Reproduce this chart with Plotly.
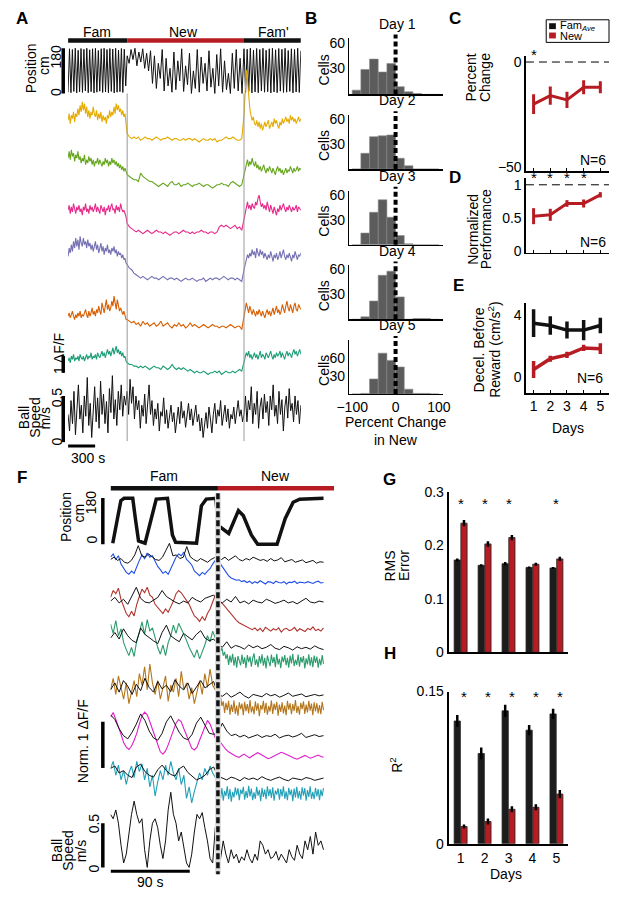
import numpy as np
import plotly.graph_objects as go

W, H = 617, 897
FONT = "Liberation Sans, Arial, sans-serif"
NEW_RED = "#B71C22"
INK = "#111111"

# ======================= DATA =======================
# ---- Panel A : one session, time in s, epochs Fam | New | Fam'
A_EPOCHS = [0, 655, 1950, 2580]
A_POS_FAM = [5,178,3,175,8,180,2,172,6,179,4,176,10,180,3,174,7,178,2,180,5,171,9,178,4,180,6,175,3,179,8,177,2,180,5,173,7,179,4,176,30]
A_POS_NEW = [150,120,175,135,180,110,165,125,178,100,160,90,170,40,150,20,120,60,175,10,140,30,100,5,165,15,130,50,178,8,110,35,160,0,90,20,175,5,145,40,120,10,170,25,100,0,155,30,178,5,130,15,80,0,160,20,175,10,140,0]
A_POS_FAMP = [178,4,176,8,180,2,173,6,179,3,175,10,180,5,172,7,178,2,180,6,174,3,179,9,176,4,180,5,171,8,178,2,175,6,180,4,170]
# dF/F traces in units of 0.1 dF/F (Fam, New, Fam')
A_YELLOW = [[11,15,9,14,12,16,10,15,13,18,14,20,16,22,17,21,15,19,13,17,12,16,14,19,15,13,17,11,15,12,16,10,14,11,13,9,14,12,17,13,16,14,19,15,21,17,20,16,18,14,17,13,15,10],
            [3,1,0,1,0,1,-1,0,1,0,0,-1,0,1,0,-1,0,0,1,0,-1,0,0,-1,-1,0,-1,0,0,-1,0,-1,-2,-1,0,-1,-1,0,-1,0,-2,-1,-1,0,1,0,0,1,0,-1,-1,0],
            [14,28,41,35,24,18,14,11,13,9,8,11,7,10,6,9,5,8,10,7,9,11,6,8,10,7,12,9,11,8,6,10,8,12,9,11,13,10,12,9,14,11,13,10,12,9,11,13,10,12]]
A_GREEN = [[16,20,15,21,17,19,14,18,16,20,15,17,13,16,14,18,12,15,13,17,14,16,12,15,11,14,13,16,12,15,13,11,14,12,16,13,15,11,14,12,16,13,15,12,14,11,13,10,12,9,11,8,10,7],
           [6,5,4,3,3,2,7,5,4,3,2,2,1,0,-1,0,1,0,-1,1,2,0,0,1,-1,0,0,1,0,-1,0,0,1,0,-1,0,0,-1,-2,-1,0,0,1,0,0,-1,1,2,1,0,-1,0],
           [6,10,12,15,11,14,12,16,13,11,14,10,12,9,11,8,10,12,9,7,10,8,11,9,7,10,8,6,9,11,8,10,7,9,6,8,10,7,9,8,11,9,7,10,8,9,11,8,10,9]]
A_PINK = [[13,16,11,15,12,17,14,11,15,13,16,12,14,10,15,13,17,12,14,11,16,13,15,12,14,17,12,15,13,11,16,14,12,15,10,14,13,16,12,15,17,13,14,11,16,13,15,12,17,14,12,13,11,9],
          [5,3,2,1,0,1,0,-1,0,1,0,-1,0,1,0,0,-1,0,-1,-2,-1,0,0,-1,0,1,0,0,-1,0,-1,0,0,1,0,0,-1,0,0,-1,0,3,4,3,4,3,2,3,4,2,3,1],
          [8,12,15,18,14,16,13,17,15,14,18,16,20,22,18,15,17,14,16,13,18,15,12,16,14,11,15,13,10,14,12,16,13,15,17,14,12,15,13,16,14,12,15,13,14,16,12,15,14,13]]
A_PURPLE = [[13,18,15,20,16,22,18,24,19,23,17,25,21,19,24,20,22,18,23,19,21,17,20,16,19,22,17,20,15,18,21,16,19,14,18,16,20,15,17,14,18,16,19,15,17,13,16,14,15,12,14,11,12,9],
            [8,6,5,3,2,1,0,1,0,-1,0,1,0,0,-1,0,1,0,-1,0,0,-1,0,-1,-2,-1,0,-1,-1,0,-1,-2,-1,-1,0,-2,-1,0,-1,0,0,-1,0,1,0,-1,0,0,-1,0,-1,-2],
            [5,8,11,14,12,15,13,17,14,16,12,18,15,13,17,14,16,12,15,13,11,14,12,16,13,10,14,12,15,11,13,16,12,14,17,13,11,14,12,15,13,10,14,12,16,13,11,14,13,15]]
A_ORANGE = [[6,8,5,7,9,6,4,7,5,8,6,9,5,7,6,8,10,7,5,9,6,8,11,7,9,6,10,8,12,9,7,14,10,8,12,16,10,13,9,11,15,12,18,14,10,16,12,9,11,8,7,9,6,4],
            [4,3,2,3,1,2,0,3,1,2,0,1,2,0,1,3,0,1,2,0,-1,1,0,2,0,1,-1,0,2,0,1,0,-1,0,1,0,-1,0,1,0,0,-1,0,0,-1,0,1,0,-1,0,0,-2],
            [5,9,14,11,8,12,9,7,10,8,6,9,7,10,8,6,9,7,5,8,10,7,9,6,8,11,7,9,12,8,10,7,9,13,10,8,12,15,11,9,13,10,8,12,14,10,9,13,11,10]]
A_TEAL = [[5,7,4,8,6,9,5,7,6,8,5,9,7,6,8,5,7,9,6,8,7,10,6,8,7,9,6,10,8,7,9,11,8,10,7,9,12,9,11,8,10,13,9,11,14,10,12,9,11,8,10,7,8,5],
          [4,3,3,2,2,1,2,1,2,1,0,1,2,1,1,0,2,1,0,1,3,1,0,1,0,1,0,-1,0,-1,-2,-1,-2,-2,-1,-2,-3,-2,-2,-1,-2,-1,-3,-2,-1,-2,-2,-1,-2,-1,0,-1],
          [4,7,10,8,11,7,9,6,8,10,7,9,6,8,11,7,9,8,6,10,8,7,9,11,8,6,9,7,10,8,9,11,7,10,8,6,9,11,8,10,9,7,10,12,9,11,8,10,12,9]]
A_SPEED = [[0.3,0.12,0.45,0.2,0.55,0.08,0.35,0.62,0.25,0.4,0.1,0.5,0.28,0.7,0.18,0.42,0.05,0.38,0.6,0.22,0.48,0.15,0.66,0.3,0.52,0.2,0.44,0.1,0.58,0.32,0.72,0.25,0.46,0.18,0.55,0.35,0.62,0.28,0.5,0.4],
           [0.55,0.3,0.68,0.42,0.6,0.25,0.5,0.35,0.45,0.15,0.4,0.28,0.52,0.2,0.38,0.62,0.3,0.45,0.18,0.36,0.25,0.42,0.12,0.33,0.28,0.48,0.2,0.35,0.15,0.3,0.4,0.22,0.32,0.1,0.28,0.38,0.2,0.44,0.26,0.34,0.16,0.3,0.42,0.24,0.36,0.18,0.28,0.4,0.22,0.3,0.12,0.26,0.05,0.2,0.32,0.15,0.38,0.25,0.1,0.3,0.42,0.2,0.35,0.28,0.45,0.18,0.3,0.4,0.22,0.36,0.15,0.3,0.25,0.38,0.2,0.32,0.45,0.28,0.35,0.22],
           [0.3,0.5,0.22,0.45,0.35,0.6,0.2,0.42,0.3,0.55,0.15,0.38,0.48,0.25,0.52,0.32,0.44,0.18,0.5,0.35,0.62,0.28,0.4,0.2,0.55,0.3,0.46,0.12,0.38,0.5,0.26,0.58,0.34,0.42,0.22,0.5,0.3,0.45,0.2,0.4]]

# ---- Panel B : histograms of percent change in New (bin centres)
B_BINS = [-90, -70, -50, -30, -10, 10, 30, 50, 70, 90]
B_DAY1 = [5, 29, 41, 26, 36, 9, 3, 1, 0, 0]
B_DAY2 = [0, 19, 39, 40, 41, 13, 4, 0, 0, 0]
B_DAY3 = [0, 14, 39, 54, 33, 11, 1, 0, 0, 0]
B_DAY4 = [0, 3, 22, 53, 58, 27, 0, 1, 1, 0]
B_DAY5 = [0, 1, 25, 68, 56, 45, 8, 1, 1, 0]

# ---- Panels C, D, E
DAYS = [1, 2, 3, 4, 5]
C_NEW = [-20, -16, -18, -12, -12]
C_NEW_ERR = [4.7, 4.3, 3.9, 3.3, 2.9]
D_NEW = [0.53, 0.55, 0.72, 0.72, 0.85]
D_NEW_ERR = [0.12, 0.09, 0.05, 0.06, 0.04]
E_FAM = [3.5, 3.35, 3.05, 3.05, 3.35]
E_FAM_ERR = [0.9, 0.6, 0.55, 0.65, 0.5]
E_NEW = [0.5, 1.2, 1.45, 1.9, 1.85]
E_NEW_ERR = [0.55, 0.2, 0.2, 0.2, 0.35]

# ---- Panel F : example around the switch, time in s
F_EPOCHS = [0, 122, 242]
F_POS_T = [2.5,11.7,15.4,25.2,28.2,31.8,39.2,46.4,51.9,64.7,70.3,73.9,97.7,103.2,108.7,119.7,122.2,134.3,145.3,150.8,160,167.2,189.2,198.4,207.5,214.9,229.6,242]
F_POS_CM = [4,170,179,179,100,13,4,100,176,179,36,8,4,150,176,179,74,42,131,112,36,0,0,100,164,176,179,179]
# each cell: measured trace (Fam, New) and model fit (Fam, New), in % of norm dF/F
F_BLUE = dict(fam=[55,62,50,58,40,30,22,18,25,20,35,48,60,52,64,55,58,45,35,28,20,24,18,30,42,55,62,58,66,50,45,38,25,20,15,22,18,25,30,40,48],
              new=[48,40,30,22,15,10,8,5,6,2,4,0,3,-2,2,-1,4,0,-3,2,1,-2,3,0,-1,2,-3,1,0,3,-2,1,0,-1,2,0,-2,1,3,-1,0],
              fit_fam=[50,55,48,52,44,42,48,60,80,58,55,62,56,50,48,55,70,85,58,60,52,55,78,56,50,46,52,48,44,50,54],
              fit_new=[52,50,55,48,53,58,50,47,52,49,55,51,48,50,46,52,47,49,54,45,48,50,44,47,49,43,46,48,42,45,44])
F_RED = dict(fam=[70,85,78,90,65,50,35,28,40,30,55,72,88,80,92,75,70,55,48,40,35,45,38,50,62,78,85,80,72,65,55,42,30,25,18,28,20,35,45,60,75],
             new=[72,60,55,48,40,35,28,20,15,12,8,5,2,0,4,-2,3,-4,5,0,-3,2,-1,4,-5,1,3,-2,0,5,-3,2,-1,-4,3,0,6,-2,1,-3,4],
             fit_fam=[62,70,58,66,55,75,92,68,60,58,64,70,85,72,66,60,56,62,58,70,64,60,68,72,75],
             fit_new=[64,58,66,60,72,58,62,56,64,60,58,66,62,57,60,64,58,61,56,62,68,60,58,62,60])
F_GREEN = dict(fam=[80,60,88,55,70,40,25,12,30,10,45,62,85,58,90,65,72,48,30,15,35,12,40,55,78,60,82,70,58,45,30,18,8,25,5,20,35,55,42,65,50],
               new=[40,30,22,28,12,20,5,15,-8,12,-3,16,-10,9,-14,11,2,-9,14,-6,8,-15,13,-2,10,-12,6,17,-8,4,-13,11,-5,15,-10,7,-16,12,0,-11,14,-4,9,-13,16,-7,5,-15,10,-2,13,-9,7,-14,12,-5,16,-11,3,-8,14,-12,9,-3,11,-16,6,-7,15,-10,8,-13,12,-4,10,-14,5,-9,13,-6],
               fit_fam=[50,62,48,70,55,45,40,72,58,50,44,38,62,78,55,48,42,60,52,46,58,66,50,44,48],
               fit_new=[36,30,42,28,34,31,26,35,29,33,27,30,36,28,25,32,29,24,31,27,30,26,33,28,25])
F_BROWN = dict(fam=[40,65,30,70,45,20,55,10,35,60,25,75,50,90,40,96,55,30,60,20,45,70,15,50,35,65,25,80,40,55,20,45,10,35,60,30,75,45,85,50,40],
               new=[30,18,25,5,15,-10,12,-4,16,-14,8,-8,17,-12,6,-16,13,-2,10,-15,14,-6,9,-11,18,-9,4,-13,15,-5,11,-17,7,-3,16,-10,12,-14,5,-7,17,-12,10,-4,14,-16,8,-8,13,-11,6,-15,16,-3,11,-13,9,-6,18,-10,5,-14,12,-2,15,-12,8,-9,16,-5,10,-15,13,-7,11,-11,7,-13,14,-4],
               fit_fam=[40,55,35,60,48,30,52,38,65,45,35,58,42,50,36,62,48,40,55,32,46,60,44,52,58],
               fit_new=[30,26,33,24,29,35,27,22,30,28,25,32,27,30,24,28,33,26,29,31,25,28,30,27,29])
F_MAGENTA = dict(fam=[85,95,80,65,48,30,20,15,22,35,50,70,88,96,90,75,58,40,22,10,5,12,25,42,60,72,80,75,60,45,30,18,14,20,35,50,65,78,70,55,40],
                 new=[38,30,22,15,10,6,3,0,-2,2,5,0,-3,1,4,8,5,2,-2,-5,-3,0,3,6,9,7,4,1,-2,-4,-6,-3,0,2,-1,-4,-2,1,3,0,-2],
                 fit_fam=[90,80,60,45,38,52,70,92,78,55,40,35,50,75,88,70,52,40,36,48,72,85,66,50,48],
                 fit_new=[50,72,55,45,48,42,46,40,44,47,41,45,43,48,40,44,46,42,45,50,41,44,47,43,45])
F_CYAN = dict(fam=[55,70,40,62,30,50,20,45,60,35,70,48,65,30,55,15,40,-5,25,50,30,62,40,70,45,30,55,20,40,-10,15,-20,5,25,45,30,55,40,60,45,35],
              new=[20,8,-10,12,-15,6,-5,16,-12,10,-17,4,-8,14,-3,12,-14,9,-1,15,-13,6,-9,17,-6,11,-14,3,-11,15,-4,8,-16,13,-7,9,-12,16,-5,10,-9,14,-15,7,-2,12,-13,10,-6,16,-11,5,-14,13,-3,9,-16,11,-8,15,-10,6,-13,14,-4,12,-15,8,-7,16,-11,4,-12,13,-6,10,-14,9,-5,12],
              fit_fam=[55,60,45,50,40,35,58,64,48,40,36,52,62,50,42,38,54,60,46,38,30,34,40,52,58],
              fit_new=[38,34,30,36,33,28,35,31,34,30,37,32,29,33,36,31,28,34,32,30,35,33,29,31,34])
F_SPEED = [[0.6,0.55,0.65,0.5,0.25,0.05,0.15,0.4,0.6,0.75,0.6,0.5,0.55,0.2,0.0,0.3,0.5,0.55,0.45,0.25,0.1,0.3,0.65,0.85,0.6,0.5,0.3,0.4,0.2,0.05,0.0,0.15,0.4,0.6,0.55,0.62,0.45,0.3,0.1,0.05,0.45],
           [0.2,0.1,0.3,0.15,0.05,0.2,0.1,0.15,0.05,0.12,0.08,0.2,0.1,0.05,0.15,0.08,0.3,0.25,0.15,0.2,0.1,0.12,0.18,0.08,0.15,0.1,0.05,0.2,0.12,0.08,0.25,0.15,0.1,0.3,0.2,0.35,0.15,0.4,0.25,0.3,0.2]]

# ---- Panels G, H : model fits per day
G_FAM = [0.173, 0.163, 0.166, 0.159, 0.158]
G_FAM_ERR = [0.003, 0.002, 0.003, 0.002, 0.002]
G_NEW = [0.242, 0.203, 0.215, 0.165, 0.175]
G_NEW_ERR = [0.006, 0.005, 0.005, 0.003, 0.004]
H_FAM = [0.121, 0.089, 0.131, 0.112, 0.128]
H_FAM_ERR = [0.006, 0.006, 0.006, 0.005, 0.005]
H_NEW = [0.017, 0.022, 0.034, 0.036, 0.049]
H_NEW_ERR = [0.002, 0.003, 0.003, 0.003, 0.004]

# ======================= HELPERS =======================
LAYOUT = {}
ANN = []
SHP = []
TRACES = []
_n = [0]


def new_axes(xpx, ypx, xr, yr, xkw=None, ykw=None):
    _n[0] += 1
    n = _n[0]
    s = '' if n == 1 else str(n)
    base = dict(showgrid=False, zeroline=False, showline=False, showticklabels=False,
                ticks='', fixedrange=True, tickfont=dict(size=14, family=FONT, color='black'))
    xa = dict(base, domain=[max(0, xpx[0] / W), min(1, xpx[1] / W)], range=list(xr), anchor='y' + s)
    ya = dict(base, domain=[max(0, 1 - ypx[1] / H), min(1, 1 - ypx[0] / H)], range=list(yr), anchor='x' + s)
    if xkw:
        xa.update(xkw)
    if ykw:
        ya.update(ykw)
    LAYOUT['xaxis' + s] = xa
    LAYOUT['yaxis' + s] = ya
    return 'x' + s, 'y' + s


def vband(zero_px, ppu, lo, hi):
    return (zero_px - hi * ppu, zero_px - lo * ppu)


def text(x, y, s, size=14, angle=0, xanchor='center', yanchor='middle', bold=False,
         xref='paper', yref='paper'):
    if xref == 'paper':
        x = x / W
    if yref == 'paper':
        y = 1 - y / H
    ANN.append(dict(x=x, y=y, xref=xref, yref=yref, text=('<b>%s</b>' % s) if bold else s,
                    showarrow=False, textangle=angle, xanchor=xanchor, yanchor=yanchor,
                    font=dict(size=size, family=FONT, color='black')))


def line(x0, y0, x1, y1, xref='paper', yref='paper', color='black', width=1, dash='solid'):
    if xref == 'paper':
        x0, x1 = x0 / W, x1 / W
    if yref == 'paper':
        y0, y1 = 1 - y0 / H, 1 - y1 / H
    SHP.append(dict(type='line', x0=x0, x1=x1, y0=y0, y1=y1, xref=xref, yref=yref,
                    line=dict(color=color, width=width, dash=dash)))


def seg_series(parts, bounds):
    ts, vs = [], []
    for i, p in enumerate(parts):
        a, b = bounds[i], bounds[i + 1]
        n = len(p)
        if i == len(parts) - 1:
            ts.append(np.linspace(a, b, n))
        else:
            ts.append(a + (b - a) * np.arange(n) / n)
        vs.append(np.asarray(p, float))
    return np.concatenate(ts), np.concatenate(vs)


def scat(ax, x, y, color, width=1.0, **kw):
    TRACES.append(go.Scatter(x=x, y=y, mode='lines', line=dict(color=color, width=width),
                             xaxis=ax[0], yaxis=ax[1], hoverinfo='skip', **kw))


# ======================= PANEL A =======================
AX0, AX1 = 57, 298
A_XR = [A_EPOCHS[0], A_EPOCHS[-1]]
text(9, 11, 'A', size=17, bold=True)

ax = new_axes((AX0, AX1), vband(87, 46 / 180, -8, 188), A_XR, [-8, 188])
t, v = seg_series([A_POS_FAM, A_POS_NEW, A_POS_FAMP], A_EPOCHS)
scat(ax, t, v, INK, 1.0)
line(52, 0, 52, 180, yref=ax[1], width=3.5)
text(19, 61, 'Position', angle=-90)
text(32, 58, 'cm', angle=-90)
text(45, 49, '180', angle=-90)
text(45, 85, '0', angle=-90)

for (a, b), col in zip(zip(A_EPOCHS[:-1], A_EPOCHS[1:]), [INK, NEW_RED, INK]):
    line(a, 33, b, 33, xref=ax[0], color=col, width=4.5)
text(87, 24, 'Fam')
text(177, 24, 'New')
text(270, 24, "Fam'")

A_COLORS = ['#E6AB02', '#66A61E', '#E7298A', '#7570B3', '#D95F02', '#1B9E77']
A_ZERO_PX = [133, 180, 228, 275, 324, 368]
teal_ax = None
for series, col, z in zip([A_YELLOW, A_GREEN, A_PINK, A_PURPLE, A_ORANGE, A_TEAL], A_COLORS, A_ZERO_PX):
    ax = new_axes((AX0, AX1), vband(z, 1.7, -12, 45), A_XR, [-12, 45])
    t, v = seg_series(series, A_EPOCHS)
    scat(ax, t, v, col, 1.1)
    teal_ax = ax
line(52, -2, 52, 8, yref=teal_ax[1], width=3.5)
text(47, 352, '1 ΔF/F', angle=-90)

ax = new_axes((AX0, AX1), vband(442, 94, -0.03, 0.9), A_XR, [-0.03, 0.9])
t, v = seg_series(A_SPEED, A_EPOCHS)
scat(ax, t, v, INK, 1.0)
line(52, 0, 52, 0.5, yref=ax[1], width=3.5)
text(46, 396, '0.5', angle=-90)
text(46, 441, '0', angle=-90)
text(11, 417, 'Ball', angle=-90)
text(22, 417, 'Speed', angle=-90)
text(33, 417, 'm/s', angle=-90)
line(0, 446, 300, 446, xref=ax[0], width=3)
text(78, 458, '300 s')
for tb in A_EPOCHS[1:3]:
    line(tb, 87, tb, 441, xref=ax[0], color='#9a9a9a', width=1)

# ======================= PANEL B =======================
text(308, 11, 'B', size=17, bold=True)
B_BASE = [88, 164, 241, 317, 393]
B_TOP = [31, 109, 186, 262, 338]
B_YMAX = [65, 65, 65, 65, 90]
for i, counts in enumerate([B_DAY1, B_DAY2, B_DAY3, B_DAY4, B_DAY5]):
    last = (i == 4)
    xkw = dict(showline=True, linecolor='black', linewidth=1.5)
    if last:
        xkw.update(showticklabels=True, tickvals=[-100, 0, 100], ticks='')
    ykw = dict(showline=True, linecolor='black', linewidth=1.2, showticklabels=True,
               tickvals=[30, 60], ticks='')
    ax = new_axes((348, 445), (B_TOP[i], B_BASE[i]), [-107, 109], [0, B_YMAX[i]], xkw, ykw)
    TRACES.append(go.Bar(x=B_BINS, y=counts, width=20, marker=dict(color='#5c5c5c', line=dict(color='#8a8a8a', width=0.6)),
                         xaxis=ax[0], yaxis=ax[1], hoverinfo='skip'))
    line(0, B_BASE[i], 0, B_TOP[i] - 4, xref=ax[0], width=4, dash='5px,3px')
    text(398, B_TOP[i] - 15, 'Day %d' % (i + 1))
    text(322, (B_TOP[i] + B_BASE[i]) / 2 + 4, 'Cells', angle=-90)
text(396, 422, 'Percent Change')
text(396, 440, 'in New')

# ======================= PANELS C, D, E =======================
CE_X = (531, 617)
CE_XR = [0.54, 5.52]
xk = dict(showline=True, linecolor='black', linewidth=1.5, tickvals=DAYS, ticks='inside', ticklen=3, tickcolor='black')
text(458, 11, 'C', size=17, bold=True)
ax = new_axes(CE_X, vband(55, 2.14, -51.9, 2.8), CE_XR, [-51.9, 2.8], dict(xk),
              dict(showline=True, linecolor='black', linewidth=1.5, showticklabels=True, tickvals=[-50, 0], ticks=''))
line(CE_XR[0], 0, CE_XR[1], 0, xref=ax[0], yref=ax[1], width=1, dash='8px,5px')
scat(ax, DAYS, C_NEW, NEW_RED, 3,
     error_y=dict(type='data', array=C_NEW_ERR, thickness=3, width=0, color=NEW_RED))
text(1, 47, '*', xref=ax[0], size=15)
text(600, 155, 'N=6')
text(474, 71, 'Percent', angle=-90)
text(488, 71, 'Change', angle=-90)

text(458, 173, 'D', size=17, bold=True)
ax = new_axes(CE_X, vband(248, 68, -0.02, 1.1), CE_XR, [-0.02, 1.1], dict(xk),
              dict(showline=True, linecolor='black', linewidth=1.5, showticklabels=True, tickvals=[0, 0.5, 1], ticks=''))
line(CE_XR[0], 1, CE_XR[1], 1, xref=ax[0], yref=ax[1], width=1, dash='8px,5px')
scat(ax, DAYS, D_NEW, NEW_RED, 3,
     error_y=dict(type='data', array=D_NEW_ERR, thickness=3, width=0, color=NEW_RED))
for d in DAYS[:4]:
    text(d, 173, '*', xref=ax[0], size=15)
text(600, 238, 'N=6')
text(476, 225, 'Normalized', angle=-90)
text(490, 225, 'Performance', angle=-90)

text(461, 283, 'E', size=17, bold=True)
xkE = dict(xk, showticklabels=True)
ax = new_axes(CE_X, vband(376, 15.75, -1.02, 4.83), CE_XR, [-1.02, 4.83], xkE,
              dict(showline=True, linecolor='black', linewidth=1.5, showticklabels=True, tickvals=[0, 4], ticks=''))
scat(ax, DAYS, E_FAM, INK, 3.5,
     error_y=dict(type='data', array=E_FAM_ERR, thickness=3.5, width=0, color=INK))
scat(ax, DAYS, E_NEW, NEW_RED, 3.5,
     error_y=dict(type='data', array=E_NEW_ERR, thickness=3.5, width=0, color=NEW_RED))
text(597, 377, 'N=6')
text(482, 348, 'Decel. Before', angle=-90)
text(498, 348, 'Reward (cm/s<sup>2</sup>)', angle=-90)
text(575, 428, 'Days')

# legend box (C)
SHP.append(dict(type='rect', x0=552 / W, x1=1.0, y0=1 - 35 / H, y1=1 - 12 / H, xref='paper', yref='paper',
                line=dict(color='black', width=1), fillcolor='white'))
SHP.append(dict(type='rect', x0=555 / W, x1=562 / W, y0=1 - 21.5 / H, y1=1 - 15.5 / H, xref='paper', yref='paper',
                line=dict(width=0), fillcolor=INK))
SHP.append(dict(type='rect', x0=555 / W, x1=562 / W, y0=1 - 31 / H, y1=1 - 25 / H, xref='paper', yref='paper',
                line=dict(width=0), fillcolor=NEW_RED))
text(564, 18.5, 'Fam<sub><i>Ave</i></sub>', size=11, xanchor='left')
text(564, 28.5, 'New', size=11, xanchor='left')

# ======================= PANEL F =======================
FX0 = 101
F_PPS = 0.911
F_XR = [0, 254]
FX = (FX0, FX0 + F_XR[1] * F_PPS)
text(9, 478, 'F', size=17, bold=True)
ax = new_axes(FX, vband(546, 47 / 180, -8, 188), F_XR, [-8, 188])
scat(ax, F_POS_T, F_POS_CM, INK, 3.5)
line(93, 0, 93, 180, yref=ax[1], width=3.5)
text(55, 518, 'Position', angle=-90)
text(68, 514, 'cm', angle=-90)
text(81, 503, '180', angle=-90)
text(82, 541, '0', angle=-90)
line(F_EPOCHS[0], 489, F_EPOCHS[1], 489, xref=ax[0], color=INK, width=4.5)
line(F_EPOCHS[1], 489, F_XR[1], 489, xref=ax[0], color=NEW_RED, width=4.5)
text(156, 476, 'Fam')
text(272, 476, 'New')

F_COLORS = ['#2250E6', '#B0342C', '#2A9B6C', '#B4761C', '#E01CC8', '#22A0B8']
F_ZERO_PX = [585, 633, 665, 713, 762, 800]
mag_ax = None
for cell, col, z in zip([F_BLUE, F_RED, F_GREEN, F_BROWN, F_MAGENTA, F_CYAN], F_COLORS, F_ZERO_PX):
    ax = new_axes(FX, vband(z, 0.47, -60, 140), F_XR, [-60, 140])
    t, v = seg_series([cell['fam'], cell['new']], F_EPOCHS)
    scat(ax, t, v, col, 1.1)
    t, v = seg_series([cell['fit_fam'], cell['fit_new']], F_EPOCHS)
    scat(ax, t, v, INK, 1.0)
    if col == '#E01CC8':
        mag_ax = ax
line(93, -25, 93, 75, yref=mag_ax[1], width=3.5)
text(72, 747, 'Norm. 1 ΔF/F', angle=-90)

ax = new_axes(FX, vband(875, 90, -0.03, 0.95), F_XR, [-0.03, 0.95])
t, v = seg_series(F_SPEED, F_EPOCHS)
scat(ax, t, v, INK, 1.0)
line(93, 0, 93, 0.5, yref=ax[1], width=3.5)
text(84, 830, '0.5', angle=-90)
text(84, 876, '0', angle=-90)
text(45, 858, 'Ball', angle=-90)
text(57, 858, 'Speed', angle=-90)
text(70, 858, 'm/s', angle=-90)
line(0, 879, 90, 879, xref=ax[0], width=3)
text(142, 890, '90 s')
line(F_EPOCHS[1], 494, F_EPOCHS[1], 882, xref=ax[0], color='#dddddd', width=6)
line(F_EPOCHS[1], 494, F_EPOCHS[1], 882, xref=ax[0], color=INK, width=3.5, dash='6px,3px')

# ======================= PANELS G, H =======================
GH_X = (451, 575)
GH_XR = [0.5, 5.5]
BW = 0.26
text(390, 480, 'G', size=17, bold=True)
ax = new_axes(GH_X, (493, 656), GH_XR, [0, 0.3],
              dict(showline=True, linecolor='black', linewidth=2),
              dict(showline=True, linecolor='black', linewidth=2, showticklabels=True,
                   tickvals=[0, 0.1, 0.2, 0.3], ticktext=['0', '0.1', '0.2', '0.3'], ticks=''))
for vals, err, col, off in [(G_FAM, G_FAM_ERR, '#1c1c1c', -BW - 0.01), (G_NEW, G_NEW_ERR, NEW_RED, 0.01)]:
    TRACES.append(go.Bar(x=DAYS, y=vals, width=BW, offset=off, marker=dict(color=col, line=dict(color='#222', width=0.8)),
                         error_y=dict(type='data', array=err, thickness=2.5, width=0, color='black'),
                         xaxis=ax[0], yaxis=ax[1], hoverinfo='skip'))
for d in [1, 2, 3, 5]:
    text(d, 504, '*', xref=ax[0], size=15)
text(390, 568, 'RMS', angle=-90)
text(405, 568, 'Error', angle=-90)

text(390, 657, 'H', size=17, bold=True)
ax = new_axes(GH_X, (696, 851), GH_XR, [0, 0.15],
              dict(showline=True, linecolor='black', linewidth=2, showticklabels=True, tickvals=DAYS, ticks=''),
              dict(showline=True, linecolor='black', linewidth=2, showticklabels=True,
                   tickvals=[0, 0.15], ticktext=['0', '0.15'], ticks=''))
for vals, err, col, off in [(H_FAM, H_FAM_ERR, '#1c1c1c', -BW - 0.01), (H_NEW, H_NEW_ERR, NEW_RED, 0.01)]:
    TRACES.append(go.Bar(x=DAYS, y=vals, width=BW, offset=off, marker=dict(color=col, line=dict(color='#222', width=0.8)),
                         error_y=dict(type='data', array=err, thickness=2.5, width=0, color='black'),
                         xaxis=ax[0], yaxis=ax[1], hoverinfo='skip'))
for d in DAYS:
    text(d + 0.15, 701, '*', xref=ax[0], size=15)
text(397, 770, 'R<sup>2</sup>', angle=-90)
text(510, 882, 'Days')

# ======================= FIGURE =======================
fig = go.Figure(data=TRACES)
fig.update_layout(width=W, height=H, margin=dict(l=0, r=0, t=0, b=0), autosize=False,
                  paper_bgcolor='white', plot_bgcolor='rgba(0,0,0,0)', showlegend=False,
                  barmode='overlay', font=dict(family=FONT, size=14, color='black'),
                  annotations=ANN, shapes=SHP, **LAYOUT)
fig.write_html("out.html", config={'displayModeBar': False, 'staticPlot': True},
               post_script="document.body.style.margin='0px';document.body.style.overflow='hidden';")
